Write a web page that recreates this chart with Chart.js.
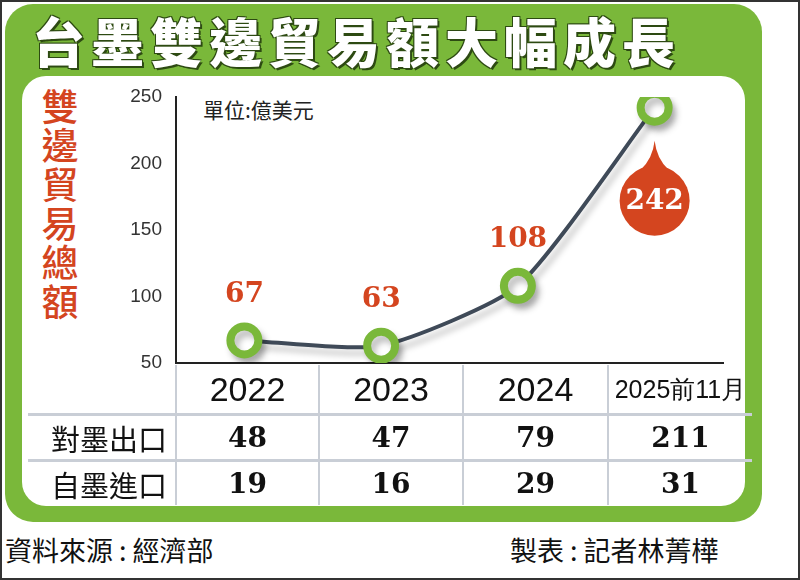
<!DOCTYPE html>
<html lang="zh-Hant">
<head>
<meta charset="UTF-8">
<title>台墨雙邊貿易額大幅成長</title>
<script src="https://cdn.jsdelivr.net/npm/chart.js"></script>
<style>
  html, body { margin: 0; padding: 0; }
  body { width: 800px; height: 580px; position: relative; background: #fff; overflow: hidden;
         font-family: "Noto Sans CJK TC", sans-serif; }
  .outer { position: absolute; left: 0; top: 0; width: 796px; height: 576px; border: 2px solid #333; }
  .frame { position: absolute; left: 5px; top: 4px; width: 757px; height: 518px; background: #7ab83a; border-radius: 28px; }
  .panel { position: absolute; left: 22px; top: 76px; width: 723px; height: 430px; background: #fff; border-radius: 24px; }
  .title { position: absolute; left: 32px; top: 2px; font-size: 53px; font-weight: 900; color: #fff; letter-spacing: 6px;
           text-shadow: 2px 2px 0 #2d4a12, -1px -1px 0 #2d4a12, 1px -1px 0 #2d4a12, -1px 1px 0 #2d4a12; white-space: nowrap; }
  .vlabel { position: absolute; left: 38px; top: 86px; width: 44px; color: #d4451f; font-size: 37px; line-height: 39px;
            font-weight: 500; text-align: center; }
  .unit { position: absolute; left: 203px; top: 94px; font-size: 21px; color: #222; }
  #wrap { position: absolute; left: 131px; top: 75px; width: 614px; height: 310px; }
  table { position: absolute; left: 28px; top: 365px; border-collapse: collapse; }
  td { padding: 0; text-align: center; color: #111; }
  td.c { border-left: 2px solid #c9ced6; }
  tr.r td { border-top: 3px solid #c9ced6; height: 43px; font-family: "DejaVu Serif", serif; font-weight: bold; font-size: 28px; }
  tr.r td.lab { font-family: "Noto Sans CJK TC", sans-serif; font-weight: 400; font-size: 29px; text-align: right; padding-right: 8px; }
  tr.h td { height: 48px; font-family: "Liberation Sans Narrow", "Liberation Sans", sans-serif; font-size: 34px; }
  tr.h td.small { font-size: 25px; }
  .foot { position: absolute; top: 530px; font-size: 27px; color: #111; }
</style>
</head>
<body>
<div class="outer"></div>
<div class="frame"></div>
<div class="panel"></div>
<div class="title">台墨雙邊貿易額大幅成長</div>
<div class="vlabel">雙<br>邊<br>貿<br>易<br>總<br>額</div>
<div class="unit">單位:億美元</div>
<div id="wrap"><canvas id="c"></canvas></div>
<table id="tbl"></table>
<div class="foot" style="left:5px">資料來源 : 經濟部</div>
<div class="foot" style="left:510px">製表 : 記者林菁樺</div>
<script>
const years = ['2022', '2023', '2024', '2025前11月'];
const totals = [67, 63, 108, 242];
const exports = [48, 47, 79, 211];
const imports = [19, 16, 29, 31];
const yTicks = [50, 100, 150, 200, 250];

// table below the chart
const tbl = document.getElementById('tbl');
const colW = [147, 141, 142, 143, 143];
function row(cls, label, vals) {
  let h = '<tr class="' + cls + '"><td class="lab" style="width:' + (colW[0] - 8) + 'px">' + label + '</td>';
  vals.forEach((v, i) => {
    h += '<td class="c' + (cls === 'h' && String(v).length > 4 ? ' small' : '') + '" style="width:' + colW[i + 1] + 'px">' + v + '</td>';
  });
  return h + '</tr>';
}
tbl.innerHTML = row('h', '', years) + row('r', '對墨出口', exports) + row('r', '自墨進口', imports);

const red = '#d4451f';
const labelPlugin = {
  id: 'labels',
  beforeDatasetDraw(chart) {
    const ctx = chart.ctx;
    ctx.save();
    ctx.shadowColor = 'rgba(0,0,0,0.25)';
    ctx.shadowBlur = 6;
    ctx.shadowOffsetX = 4;
    ctx.shadowOffsetY = 6;
  },
  afterDatasetDraw(chart) { chart.ctx.restore(); },
  afterDatasetsDraw(chart) {
    const ctx = chart.ctx;
    const pts = chart.getDatasetMeta(0).data;
    ctx.save();
    ctx.textAlign = 'center';
    ctx.textBaseline = 'middle';
    ctx.font = 'bold 28px "DejaVu Serif", serif';
    pts.forEach((p, i) => {
      if (i < pts.length - 1) {
        ctx.fillStyle = red;
        ctx.fillText(totals[i], p.x, p.y - 46);
      } else {
        const cy = p.y + 93;
        ctx.fillStyle = red;
        ctx.beginPath();
        ctx.arc(p.x, cy, 35, 0, Math.PI * 2);
        ctx.fill();
        ctx.beginPath();
        ctx.moveTo(p.x - 14, cy - 31);
        ctx.quadraticCurveTo(p.x - 2, cy - 42, p.x, cy - 60);
        ctx.quadraticCurveTo(p.x + 2, cy - 42, p.x + 14, cy - 31);
        ctx.fill();
        ctx.fillStyle = '#fff';
        ctx.fillText(totals[i], p.x, cy + 1);
      }
    });
    ctx.restore();
  }
};

new Chart(document.getElementById('c'), {
  type: 'line',
  data: {
    labels: years,
    datasets: [{
      data: totals,
      borderColor: '#3f4a58',
      borderWidth: 4,
      tension: 0.2,
      pointRadius: 14,
      pointBorderWidth: 8,
      pointBackgroundColor: '#fff',
      pointBorderColor: '#7ab83a'
    }]
  },
  options: {
    responsive: true,
    maintainAspectRatio: false,
    animation: false,
    layout: { padding: { top: 10, right: 0, bottom: 0, left: 0 } },
    plugins: { legend: { display: false }, tooltip: { enabled: false } },
    scales: {
      x: {
        offset: true,
        ticks: { display: false },
        grid: { drawOnChartArea: false, drawTicks: false },
        border: { color: '#222', width: 2 },
        afterFit(s) { s.height = 0; }
      },
      y: {
        min: 50, max: 250,
        afterBuildTicks(s) { s.ticks = yTicks.map(v => ({ value: v })); },
        ticks: { color: '#333', font: { size: 19, family: 'Liberation Sans' }, padding: 6 },
        grid: { display: false },
        border: { color: '#222', width: 2 },
        afterFit(s) { s.width = 45; }
      }
    }
  },
  plugins: [labelPlugin]
});
</script>
</body>
</html>
